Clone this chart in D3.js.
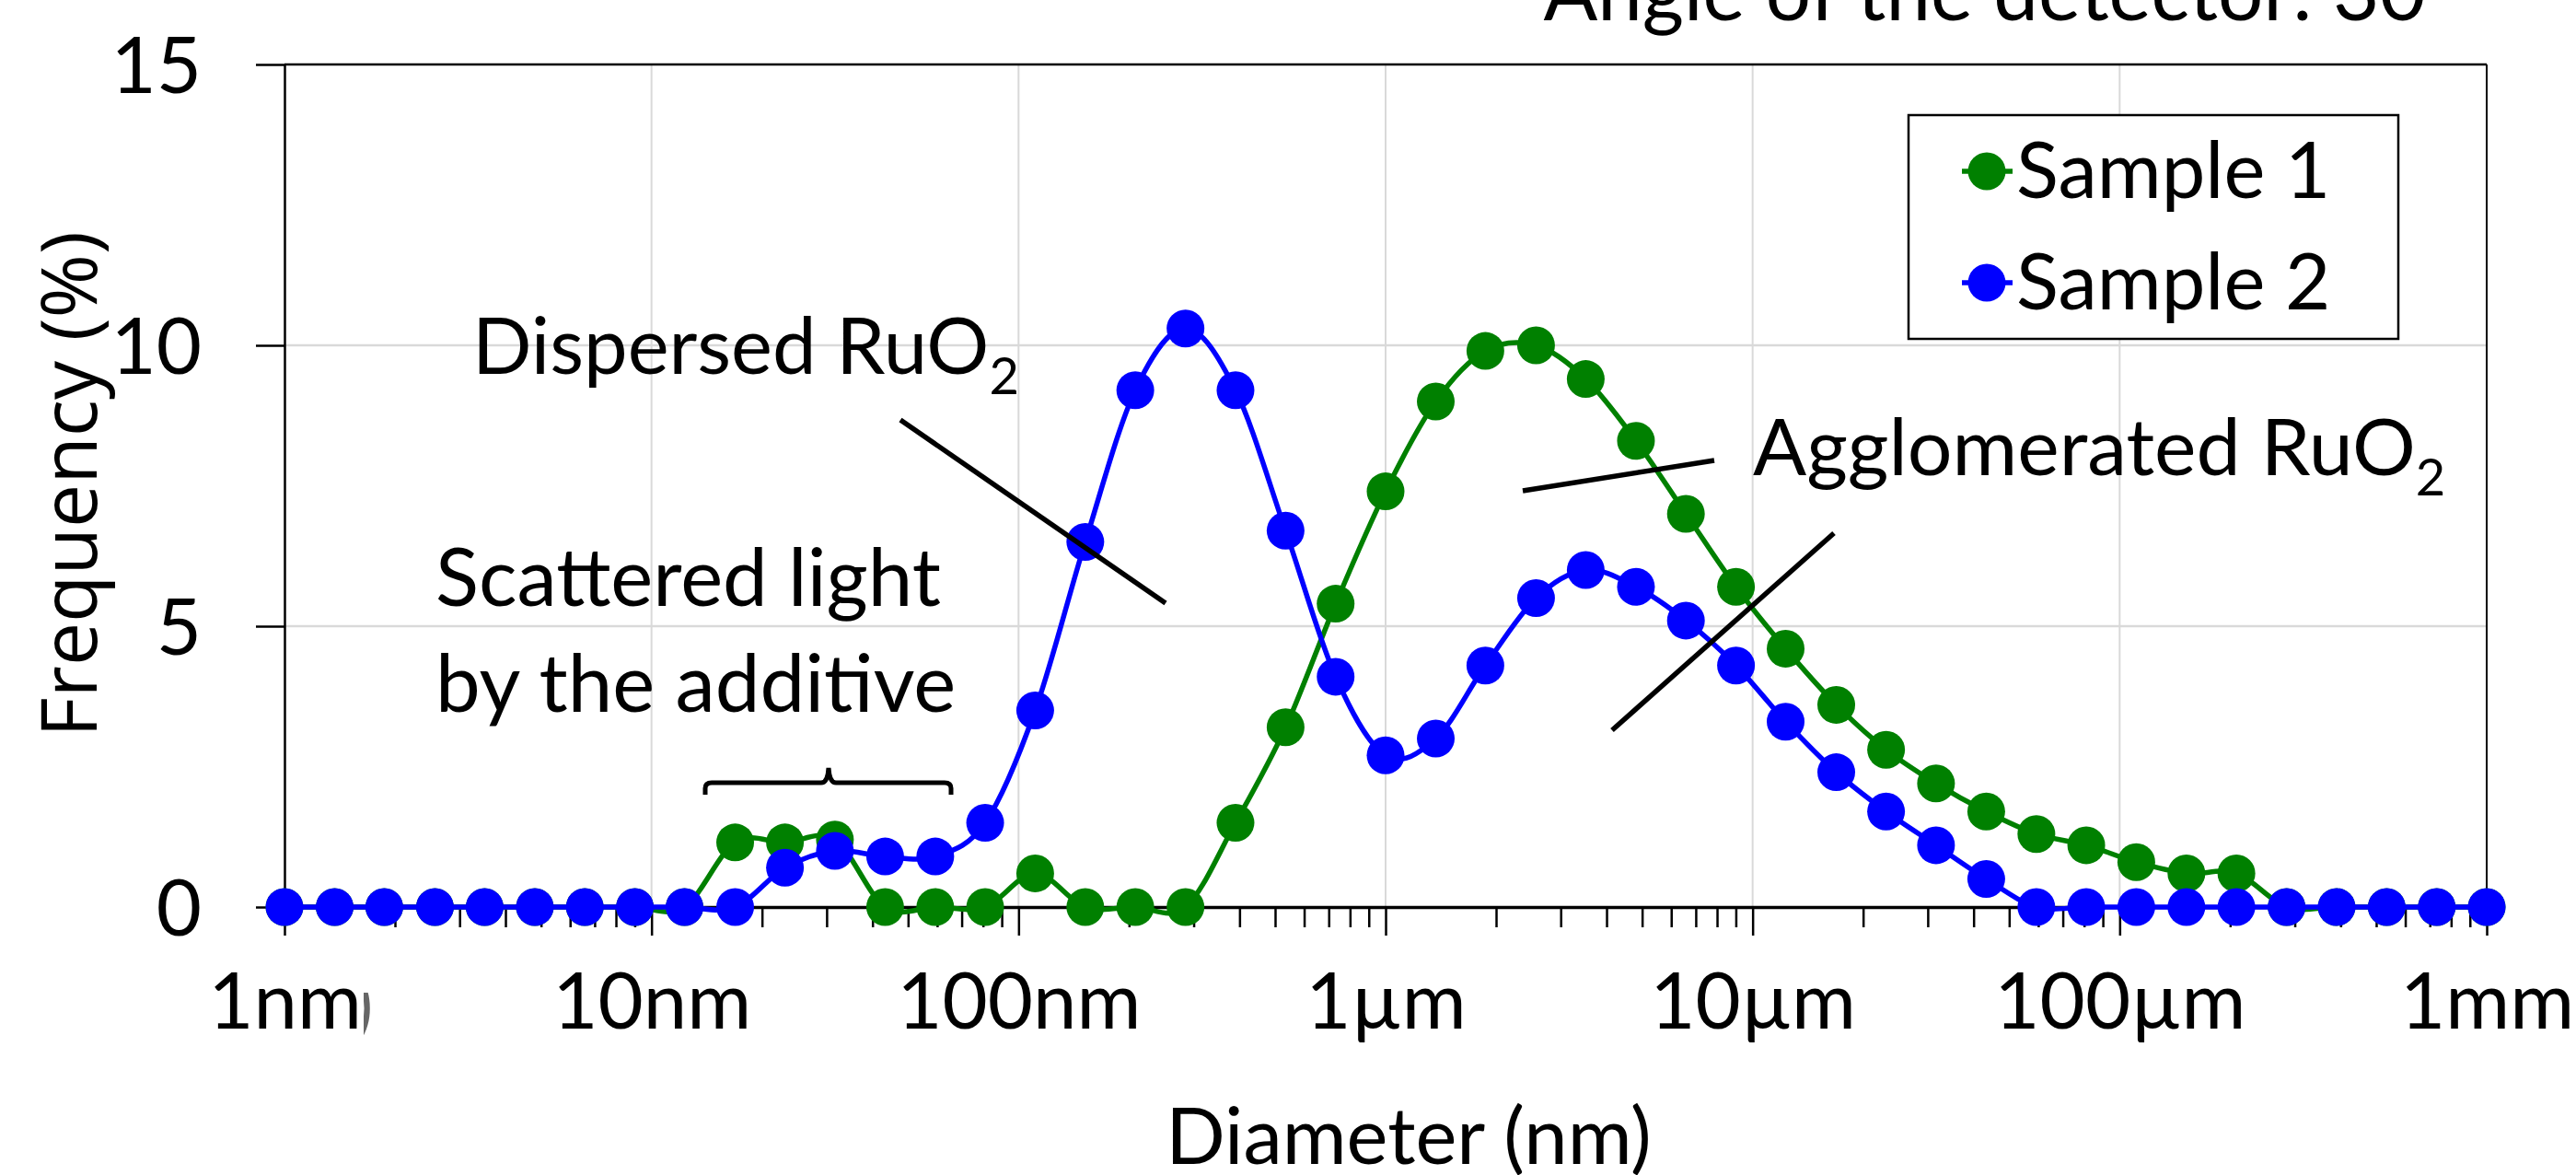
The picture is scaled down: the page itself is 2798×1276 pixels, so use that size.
<!DOCTYPE html>
<html>
<head>
<meta charset="utf-8">
<script src="https://cdn.jsdelivr.net/npm/d3@7"></script>
<style>
  body { margin: 0; background: #fff; }
  svg text { font-family: Lato, "Open Sans", sans-serif; fill: #000; }
</style>
</head>
<body>
<svg id="chart"></svg>
<script>
// size classes (nm)
var diameters = [1, 1.37, 1.87, 2.57, 3.51, 4.81, 6.58, 9.01, 12.3, 16.9,
                 23.1, 31.6, 43.3, 59.3, 81.1, 111, 152, 208, 285, 390,
                 534, 731, 1000, 1370, 1870, 2570, 3510, 4810, 6580, 9010,
                 12300, 16900, 23100, 31600, 43300, 59300, 81100, 111000, 152000, 208000,
                 285000, 390000, 534000, 731000, 1000000];

var sample1 = [0, 0, 0, 0, 0, 0, 0, 0, 0, 1.15,
               1.15, 1.2, 0, 0, 0, 0.6, 0, 0, 0, 1.5,
               3.2, 5.4, 7.4, 9.0, 9.9, 10.0, 9.4, 8.3, 7.0, 5.7,
               4.6, 3.6, 2.8, 2.2, 1.7, 1.3, 1.1, 0.8, 0.6, 0.6,
               0, 0, 0, 0, 0];

var sample2 = [0, 0, 0, 0, 0, 0, 0, 0, 0, 0,
               0.7, 1.0, 0.9, 0.9, 1.5, 3.5, 6.5, 9.2, 10.3, 9.2,
               6.7, 4.1, 2.7, 3.0, 4.3, 5.5, 6.0, 5.7, 5.1, 4.3,
               3.3, 2.4, 1.7, 1.1, 0.5, 0, 0, 0, 0, 0,
               0, 0, 0, 0, 0];

var seriesNames = ["Sample 1", "Sample 2"];
var xTicks = [1, 10, 100, 1000, 10000, 100000, 1000000];
var xTickLabels = ["1nm", "10nm", "100nm", "1\u00b5m", "10\u00b5m", "100\u00b5m", "1mm"];
var yTicks = [0, 5, 10, 15];

var W = 2798, H = 1276;
var colors = ["#008000", "#0000ff"];

var svg = d3.select("#chart")
            .attr("width", W)
            .attr("height", H);

svg.append("rect").attr("width", W).attr("height", H).attr("fill", "#fff");

var margins = { left: 309, right: 2701, top: 70, bottom: 985 };

var x = d3.scaleLog()
          .domain([1, 1000000])
          .range([margins.left, margins.right]);

var y = d3.scaleLinear()
          .domain([0, 15])
          .range([margins.bottom, margins.top]);

// gridlines
svg.append("g")
   .selectAll("line")
   .data(xTicks.slice(1, -1))
   .enter()
   .append("line")
   .attr("x1", function(d) { return x(d); })
   .attr("x2", function(d) { return x(d); })
   .attr("y1", margins.top)
   .attr("y2", margins.bottom)
   .attr("stroke", "#d9d9d9")
   .attr("stroke-width", 2);

svg.append("g")
   .selectAll("line")
   .data([5, 10])
   .enter()
   .append("line")
   .attr("x1", margins.left)
   .attr("x2", margins.right)
   .attr("y1", function(d) { return y(d); })
   .attr("y2", function(d) { return y(d); })
   .attr("stroke", "#d9d9d9")
   .attr("stroke-width", 2.5);

// border top + right
svg.append("line").attr("x1", margins.left).attr("x2", margins.right)
   .attr("y1", margins.top).attr("y2", margins.top)
   .attr("stroke", "#000").attr("stroke-width", 2.5);
svg.append("line").attr("x1", margins.right).attr("x2", margins.right)
   .attr("y1", margins.top).attr("y2", margins.bottom)
   .attr("stroke", "#000").attr("stroke-width", 2);

// minor ticks
var minor = [];
xTicks.slice(0, -1).forEach(function(d) {
  for (var m = 2; m < 10; m++) minor.push(d * m);
});

var xMinor = svg.append("g")
   .attr("transform", "translate(0," + margins.bottom + ")")
   .call(d3.axisBottom(x).tickValues(minor).tickSize(22).tickSizeOuter(0).tickFormat(""));
xMinor.select(".domain").remove();
xMinor.selectAll("line").attr("stroke-width", 2.5);

var xAxis = svg.append("g")
   .attr("transform", "translate(0," + margins.bottom + ")")
   .call(d3.axisBottom(x).tickValues(xTicks).tickSize(31).tickSizeOuter(0)
           .tickFormat(function(d, i) { return xTickLabels[i]; }));
xAxis.select(".domain").attr("stroke-width", 3.5);
xAxis.selectAll("line").attr("stroke-width", 2.5);
xAxis.selectAll("text")
     .attr("y", 132)
     .attr("dy", 0)
     .attr("font-size", 85)
     .attr("font-family", "Lato");

var yAxis = svg.append("g")
   .attr("transform", "translate(" + margins.left + ",0)")
   .call(d3.axisLeft(y).tickValues(yTicks).tickSize(31).tickSizeOuter(0));
yAxis.select(".domain").attr("stroke-width", 2.5);
yAxis.selectAll("line").attr("stroke-width", 2.5);
yAxis.selectAll("text")
     .attr("x", -90)
     .attr("dy", "0.36em")
     .attr("font-size", 85)
     .attr("font-family", "Lato");

// stray bracket glyph next to "1nm"
svg.append("clipPath").attr("id", "stray")
   .append("rect").attr("x", 395).attr("y", 1078).attr("width", 12).attr("height", 56);
svg.append("text")
   .attr("x", 384).attr("y", 1120)
   .attr("font-size", 80)
   .style("fill", "#666")
   .attr("clip-path", "url(#stray)")
   .text(")");

// series
var line = d3.line()
             .x(function(d) { return x(d[0]); })
             .y(function(d) { return y(d[1]); })
             .curve(d3.curveCardinal.tension(0));

[sample1, sample2].forEach(function(vals, s) {
  var pts = diameters.map(function(d, i) { return [d, vals[i]]; });
  var g = svg.append("g");
  g.append("path")
   .datum(pts)
   .attr("d", line)
   .attr("fill", "none")
   .attr("stroke", colors[s])
   .attr("stroke-width", 5.5);
  g.selectAll("circle")
   .data(pts)
   .enter()
   .append("circle")
   .attr("cx", function(d) { return x(d[0]); })
   .attr("cy", function(d) { return y(d[1]); })
   .attr("r", 20.5)
   .attr("fill", colors[s]);
});

// axis titles
svg.append("text")
   .attr("x", 1530).attr("y", 1264)
   .attr("text-anchor", "middle")
   .attr("font-size", 85)
   .text("Diameter (nm)");

svg.append("text")
   .attr("transform", "translate(105,526) rotate(-90)")
   .attr("text-anchor", "middle")
   .attr("font-size", 84)
   .style("font-family", "'Open Sans', sans-serif")
   .text("Frequency (%)");

svg.append("text")
   .attr("x", 2635).attr("y", 22)
   .attr("text-anchor", "end")
   .attr("font-size", 87)
   .text("Angle of the detector: 30");

// legend
var legend = svg.append("g");
legend.append("rect")
      .attr("x", 2073).attr("y", 125)
      .attr("width", 532).attr("height", 243)
      .attr("fill", "#fff")
      .attr("stroke", "#000")
      .attr("stroke-width", 2.5);

seriesNames.forEach(function(name, i) {
  var cy = 186 + i * 121;
  legend.append("line")
        .attr("x1", 2131).attr("x2", 2186)
        .attr("y1", cy).attr("y2", cy)
        .attr("stroke", colors[i]).attr("stroke-width", 5.5);
  legend.append("circle")
        .attr("cx", 2158).attr("cy", cy).attr("r", 20.5)
        .attr("fill", colors[i]);
  legend.append("text")
        .attr("x", 2190).attr("y", cy + 29)
        .attr("font-size", 85)
        .text(name);
});

// annotations
var ann = svg.append("g").attr("stroke", "#000").attr("stroke-width", 5.5).attr("fill", "none");
ann.append("line").attr("x1", 978).attr("y1", 456).attr("x2", 1266).attr("y2", 655);
ann.append("line").attr("x1", 1654).attr("y1", 533).attr("x2", 1862).attr("y2", 500);
ann.append("line").attr("x1", 1992).attr("y1", 579).attr("x2", 1751).attr("y2", 793);
ann.append("path")
   .attr("stroke-width", 5)
   .attr("d", "M766,863 V856 Q766,850 773,850 H892 Q899,850 900,834 Q901,850 908,850 H1026 Q1033,850 1033,856 V863");

var t1 = svg.append("text").attr("x", 513).attr("y", 406).attr("font-size", 85);
t1.append("tspan").text("Dispersed RuO");
t1.append("tspan").attr("font-size", 56).attr("dy", 22).text("2");

var t2 = svg.append("text").attr("x", 1904).attr("y", 516).attr("font-size", 86);
t2.append("tspan").text("Agglomerated RuO");
t2.append("tspan").attr("font-size", 56).attr("dy", 22).text("2");

svg.append("text").attr("x", 473).attr("y", 658).attr("font-size", 87).text("Scattered light");
svg.append("text").attr("x", 473).attr("y", 773).attr("font-size", 87).text("by the additive");
</script>
</body>
</html>
